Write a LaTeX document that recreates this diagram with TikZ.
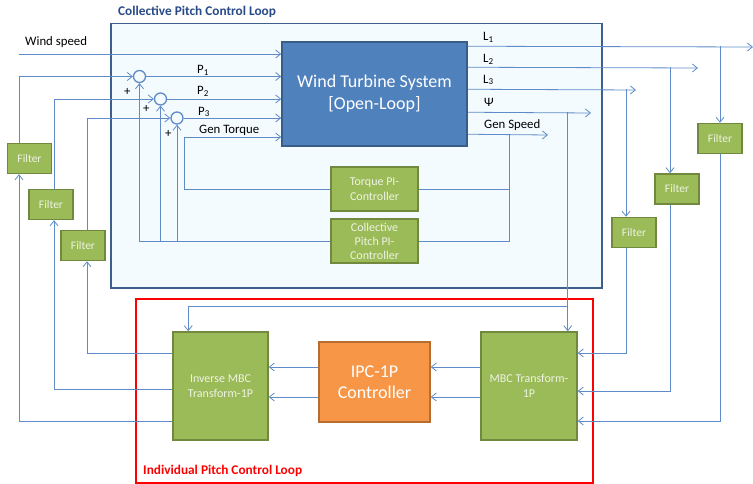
\documentclass[tikz,border=0pt]{standalone}
\usepackage{fontspec}
\setmainfont{Carlito}
\usetikzlibrary{positioning,arrows.meta,calc}

\definecolor{wireblue}{RGB}{95,140,200}
\definecolor{loopblue}{RGB}{60,95,140}
\definecolor{loopfill}{RGB}{243,251,254}
\definecolor{titleblue}{RGB}{40,75,135}
\definecolor{wtsfill}{RGB}{79,129,189}
\definecolor{wtsdraw}{RGB}{56,93,138}
\definecolor{grnfill}{RGB}{155,187,89}
\definecolor{grndraw}{RGB}{113,137,63}
\definecolor{grntext}{RGB}{238,243,226}
\definecolor{ipcfill}{RGB}{247,150,70}
\definecolor{ipcdraw}{RGB}{182,109,49}

\begin{document}
\begin{tikzpicture}[x=1pt, y=-1pt,
  >={Straight Barb[length=5pt,width=8pt]},
  wire/.style={draw=wireblue, line width=0.8pt},
  lbl/.style={font=\fontsize{12.8}{14}\selectfont, anchor=west, inner sep=0pt},
  grnbox/.style={draw=grndraw, fill=grnfill, line width=1.5pt, align=center,
    text=grntext, inner sep=1pt, font=\fontsize{12}{14.5}\selectfont},
  filt/.style={grnbox, minimum width=44pt, minimum height=30pt, font=\fontsize{11.5}{14}\selectfont},
  sumnode/.style={circle, draw=wireblue, fill=loopfill, line width=1.3pt,
    minimum size=12pt, inner sep=0pt},
]
\useasboundingbox (0,0) rectangle (753,484);
\fill[white] (0,0) rectangle (753,484);

% ---- the two loop frames ----
\node[draw=loopblue, fill=loopfill, line width=1.5pt, anchor=north west,
  minimum width=491pt, minimum height=264pt] (cpc) at (110,23) {};
\node[lbl, text=titleblue, font=\fontsize{13.3}{14}\selectfont\bfseries] (cpctitle) at (118,12)
  {Collective Pitch Control Loop};
\node[draw=red, line width=1.5pt, anchor=north west,
  minimum width=457pt, minimum height=184pt] (ipl) at (135,298) {};
\node[lbl, text=red, font=\fontsize{13.3}{14}\selectfont\bfseries] (ipltitle) at (143,471)
  {Individual Pitch Control Loop};

% ---- blocks ----
\node[draw=wtsdraw, fill=wtsfill, line width=1.5pt, text=white, align=center,
  minimum width=185pt, minimum height=104pt, font=\fontsize{18}{22}\selectfont] (wts)
  at (374.5,94) {Wind Turbine System\\{[Open-Loop]}};
\node[grnbox, minimum width=87pt, minimum height=44pt] (tq) at (374.5,189)
  {Torque PI-\\Controller};
\node[grnbox, minimum width=87pt, minimum height=44pt, font=\fontsize{12}{14}\selectfont] (cp) at (374.5,241)
  {Collective\\Pitch PI-\\Controller};
\node[sumnode] (s1) at (139.5,76.5) {};
\node[sumnode] (s2) at (160.5,99) {};
\node[sumnode] (s3) at (177,118) {};

\node[filt] (f1) at (29.5,158.5) {Filter};
\node[filt] (f2) at (51,204.5) {Filter};
\node[filt] (f3) at (83,245.5) {Filter};
\node[filt] (fr1) at (720,138.5) {Filter};
\node[filt] (fr2) at (677,189) {Filter};
\node[filt] (fr3) at (634,232.5) {Filter};

\node[grnbox, minimum width=96pt, minimum height=108pt] (mbc) at (529,386)
  {MBC Transform-\\1P};
\node[draw=ipcdraw, fill=ipcfill, line width=1.5pt, text=white, align=center,
  minimum width=111pt, minimum height=80pt, font=\fontsize{18}{21}\selectfont] (ipc)
  at (374.5,382) {IPC-1P\\Controller};
\node[grnbox, minimum width=95pt, minimum height=108pt] (inv) at (220.5,386)
  {Inverse MBC\\Transform-1P};

% ---- helper points ----
\coordinate (ws) at (19,54);
\coordinate (f1o) at ($(f1.north)+(-10.5,0)$);
\coordinate (f2o) at ($(f2.north)+(3,0)$);
\coordinate (f3o) at ($(f3.north)+(4,0)$);
\coordinate (gt) at (184,137);
\coordinate (o1) at ($(wts.north east)+(0,5)$);
\coordinate (o2) at ($(wts.north east)+(0,26)$);
\coordinate (o3) at ($(wts.north east)+(0,48)$);
\coordinate (o4) at ($(wts.north east)+(0,71)$);
\coordinate (o5) at ($(wts.north east)+(0,93)$);
\coordinate (e1) at (753,47);
\coordinate (e2) at (698,68);
\coordinate (e3) at (636,90);
\coordinate (e4) at (591,113);
\coordinate (e5) at (548,135);
\coordinate (t2) at ($(fr2.north)+(-7,0)$);
\coordinate (t3) at ($(fr3.north)+(-8,0)$);
\coordinate (t4) at ($(mbc.north east)+(-10,0)$);
\coordinate (t5) at ($(inv.north west)+(16,0)$);
\coordinate (t6) at ($(o5)+(42,0)$);
\coordinate (j4) at ($(t4)+(0,-25)$);
\coordinate (m1) at ($(mbc.east)+(0,-33)$);
\coordinate (m2) at ($(mbc.east)+(0,5)$);
\coordinate (m3) at ($(mbc.east)+(0,35)$);
\coordinate (n1) at ($(inv.west)+(0,-33)$);
\coordinate (n2) at ($(inv.west)+(0,3)$);
\coordinate (n3) at ($(inv.west)+(0,35)$);
\coordinate (q1) at ($(ipc.center)+(0,-15)$);
\coordinate (q2) at ($(ipc.center)+(0,15)$);

% ---- inputs of the turbine ----
\draw[wire,->] (ws) -- (wts.west |- ws);
\node[lbl] (wslbl) at (25,42) {Wind speed};
\draw[wire,->] (f1o) |- (s1);
\draw[wire,->] (f2o) |- (s2);
\draw[wire,->] (f3o) |- (s3);
\draw[wire,->] (cp.west) -| (s1);
\draw[wire,->] (cp.west) -| (s2);
\draw[wire,->] (cp.west) -| (s3);
\draw[wire,->] (s1) -- (wts.west |- s1);
\draw[wire,->] (s2) -- (wts.west |- s2);
\draw[wire,->] (s3) -- (wts.west |- s3);
\draw[wire,->] (tq.west) -| (gt) -- (wts.west |- gt);
\node[lbl] (p1lbl) at (197,70) {P\textsubscript{1}};
\node[lbl] (p2lbl) at (197,91) {P\textsubscript{2}};
\node[lbl] (p3lbl) at (198,112) {P\textsubscript{3}};
\node[lbl] (gtlbl) at (199,130) {Gen Torque};
\node[lbl] (plus1) at (124,92) {+};
\node[lbl] (plus2) at (143,109) {+};
\node[lbl] (plus3) at (165,134) {+};

% ---- outputs of the turbine ----
\draw[wire,->] (o1) -- (e1);
\draw[wire,->] (o2) -- (e2);
\draw[wire,->] (o3) -- (e3);
\draw[wire,->] (o4) -- (e4);
\draw[wire,->] (o5) -- (e5);
\node[lbl] (l1lbl) at (483,37) {L\textsubscript{1}};
\node[lbl] (l2lbl) at (483,59) {L\textsubscript{2}};
\node[lbl] (l3lbl) at (483,80) {L\textsubscript{3}};
\node[lbl] (psilbl) at (484,102) {Ψ};
\node[lbl] (gslbl) at (484,125) {Gen Speed};
\draw[wire] (t6) |- (tq.east);
\draw[wire] (t6) |- (cp.east);
\draw[wire,->] (fr1.north |- o1) -- (fr1.north);
\draw[wire,->] (t2 |- o2) -- (t2);
\draw[wire,->] (t3 |- o3) -- (t3);
\draw[wire,->] (t4 |- o4) -- (t4);
\draw[wire,->] (j4) -| (t5);

% ---- individual pitch loop ----
\draw[wire,->] (t3 |- fr3.south) |- (m1);
\draw[wire,->] (t2 |- fr2.south) |- (m2);
\draw[wire,->] (fr1.south) |- (m3);
\draw[wire,->] (mbc.west |- q1) -- (ipc.east |- q1);
\draw[wire,->] (mbc.west |- q2) -- (ipc.east |- q2);
\draw[wire,->] (ipc.west |- q1) -- (inv.east |- q1);
\draw[wire,->] (ipc.west |- q2) -- (inv.east |- q2);
\draw[wire,->] (n1) -| (f3o |- f3.south);
\draw[wire,->] (n2) -| (f2o |- f2.south);
\draw[wire,->] (n3) -| (f1o |- f1.south);
\end{tikzpicture}
\end{document}
